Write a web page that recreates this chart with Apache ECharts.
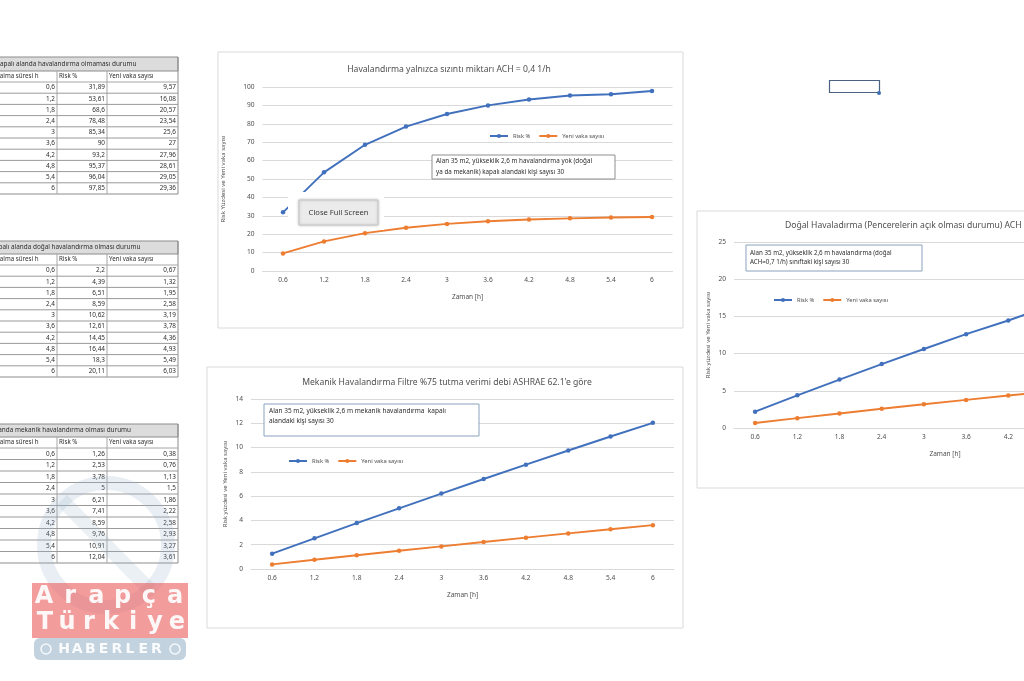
<!DOCTYPE html>
<html><head><meta charset="utf-8">
<script src="https://cdn.jsdelivr.net/npm/echarts@6/dist/echarts.min.js"></script>
<style>html,body{margin:0;padding:0;background:#fff;overflow:hidden;width:1024px;height:681px}#c{width:1180px;height:681px}</style>
</head><body><div id="c"></div>
<script>
// ---------- data ----------
const hours = [0.6, 1.2, 1.8, 2.4, 3, 3.6, 4.2, 4.8, 5.4, 6];
const timeLabels = ['0.6', '1.2', '1.8', '2.4', '3', '3.6', '4.2', '4.8', '5.4', '6'];
const riskNone = [31.89, 53.61, 68.6, 78.48, 85.34, 90, 93.2, 95.37, 96.04, 97.85];
const casesNone = [9.57, 16.08, 20.57, 23.54, 25.6, 27, 27.96, 28.61, 29.05, 29.36];
const riskNatural = [2.2, 4.39, 6.51, 8.59, 10.62, 12.61, 14.45, 16.44, 18.3, 20.11];
const casesNatural = [0.67, 1.32, 1.95, 2.58, 3.19, 3.78, 4.36, 4.93, 5.49, 6.03];
const riskMech = [1.26, 2.53, 3.78, 5, 6.21, 7.41, 8.59, 9.76, 10.91, 12.04];
const casesMech = [0.38, 0.76, 1.13, 1.5, 1.86, 2.22, 2.58, 2.93, 3.27, 3.61];
const seriesNames = ['Risk %', 'Yeni vaka sayısı'];
const tableTitles = ['Kapalı alanda havalandırma olmaması durumu', 'Kapalı alanda doğal havalandırma olması durumu', 'Kapalı alanda mekanik havalandırma olması durumu'];
const colHeaders = ['Kalma süresi h', 'Risk %', 'Yeni vaka sayısı'];
const chartTitles = ['Havalandırma yalnızca sızıntı miktarı ACH = 0,4 1/h', 'Mekanik Havalandırma Filtre %75 tutma verimi debi ASHRAE 62.1\'e göre', 'Doğal Havaladırma (Pencerelerin açık olması durumu) ACH = 0,7 1/h'];
const noteTexts = ['Alan 35 m2, yükseklik 2,6 m havalandırma yok (doğal\nya da mekanik) kapalı alandaki kişi sayısı 30', 'Alan 35 m2, yükseklik 2,6 m mekanik havalandırma  kapalı\nalandaki kişi sayısı 30', 'Alan 35 m2, yükseklik 2,6 m havalandırma (doğal\nACH=0,7 1/h) sınıftaki kişi sayısı 30'];
const xName = 'Zaman [h]';
const yNames = ['Risk Yüzdesi ve Yeni vaka sayısı', 'Risk yüzdesi ve Yeni vaka sayısı', 'Risk yüzdesi ve Yeni vaka sayısı'];
const yMax = [100, 14, 25];
const yInterval = [10, 2, 5];
const buttonText = 'Close Full Screen';
const wmLine1 = 'Arapça', wmLine2 = 'Türkiye', wmLine3 = 'HABERLER';

// ---------- style ----------
const FONT = '"Noto Sans", "Open Sans", sans-serif';
const BLUE = '#4170bd', ORANGE = '#ed7d31', GRAY = '#4f4f4f', GRID = '#d9d9d9';
const fmt = v => String(v).replace('.', ',');

const graphics = [];
function txt(x, y, text, size, opts) {
  opts = opts || {};
  graphics.push({
    type: 'text', x: x, y: y, z: opts.z || 50, silent: true,
    style: {
      text: text, font: (opts.weight || 'normal') + ' ' + size + 'px ' + (opts.family || FONT),
      fill: opts.fill || '#2e2e2e', opacity: opts.opacity == null ? 1 : opts.opacity,
      textAlign: opts.align || 'left', align: opts.align || 'left',
      textVerticalAlign: 'middle', verticalAlign: 'middle', lineHeight: opts.lh
    }
  });
}
function rect(x, y, w, h, style, z, r) {
  graphics.push({ type: 'rect', z: z || 10, silent: true, shape: { x: x, y: y, width: w, height: h, r: r || 0 }, style: style });
}
function line(x1, y1, x2, y2, color, w, z) {
  graphics.push({ type: 'line', z: z || 10, silent: true, shape: { x1: x1, y1: y1, x2: x2, y2: y2 }, style: { stroke: color, lineWidth: w || 1 } });
}

// ---------- tables ----------
const tableData = [
  { risk: riskNone, cases: casesNone, top: 57, titleH: 14, headH: 11, rowH: 11.2, titleX: -4 },
  { risk: riskNatural, cases: casesNatural, top: 241, titleH: 13, headH: 11, rowH: 11.2, titleX: -9 },
  { risk: riskMech, cases: casesMech, top: 424, titleH: 13, headH: 11, rowH: 11.5, titleX: -27 }
];
const colX = [0, 57, 107, 178];
tableData.forEach((t, ti) => {
  const hTop = t.top + t.titleH, dTop = hTop + t.headH, bottom = dTop + t.rowH * hours.length;
  rect(-1, t.top, colX[3] + 1, t.titleH, { fill: '#dcdcdc', stroke: '#8c8c8c', lineWidth: 1 });
  txt(t.titleX, t.top + t.titleH / 2, tableTitles[ti], 6.4, {});
  line(0, bottom, colX[3], bottom, '#8c8c8c', 1);
  line(colX[3], t.top, colX[3], bottom, '#8c8c8c', 1);
  line(colX[1], hTop, colX[1], bottom, '#a6a6a6', 1);
  line(colX[2], hTop, colX[2], bottom, '#a6a6a6', 1);
  line(0, dTop, colX[3], dTop, '#a6a6a6', 1);
  txt(-4, hTop + t.headH / 2, colHeaders[0], 6.2, {});
  txt(colX[1] + 2, hTop + t.headH / 2, colHeaders[1], 6.2, {});
  txt(colX[2] + 2, hTop + t.headH / 2, colHeaders[2], 6.2, {});
  hours.forEach((h, i) => {
    const cy = dTop + t.rowH * (i + 0.5);
    if (i > 0) line(0, dTop + t.rowH * i, colX[3], dTop + t.rowH * i, '#9a9a9a', 1);
    txt(colX[1] - 2, cy, fmt(h), 6.4, { align: 'right' });
    txt(colX[2] - 2, cy, fmt(t.risk[i]), 6.4, { align: 'right' });
    txt(colX[3] - 2, cy, fmt(t.cases[i]), 6.4, { align: 'right' });
  });
});

// ---------- chart frames, titles, notes ----------
rect(218, 52, 465, 276, { fill: 'none', stroke: '#d9d9d9', lineWidth: 1 }, 1);
rect(207, 367, 476, 261, { fill: 'none', stroke: '#d9d9d9', lineWidth: 1 }, 1);
rect(697, 211, 420, 277, { fill: 'none', stroke: '#d9d9d9', lineWidth: 1 }, 1);
txt(449, 70, chartTitles[0], 8.6, { align: 'center', fill: GRAY });
txt(447, 383, chartTitles[1], 8.6, { align: 'center', fill: GRAY });
txt(785, 226, chartTitles[2], 8.6, { fill: GRAY });

rect(432, 155, 183, 24, { fill: '#fff', stroke: '#8f8f8f', lineWidth: 1 }, 60);
txt(436, 167, noteTexts[0], 6.3, { z: 61, lh: 11 });
rect(264, 404, 215, 32, { fill: '#fff', stroke: '#8aa2bd', lineWidth: 1 }, 60);
txt(269, 416.5, noteTexts[1], 6.5, { z: 61, lh: 10 });
rect(746, 245, 176, 26, { fill: '#fff', stroke: '#8aa2bd', lineWidth: 1 }, 60);
txt(750, 257.5, noteTexts[2], 6.2, { z: 61, lh: 9 });

// Close Full Screen overlay
rect(288, 192, 96, 38, { fill: '#fff' }, 70);
rect(299, 200, 79, 25, { fill: '#ebebeb', stroke: '#c4c4c4', lineWidth: 1, shadowBlur: 3, shadowColor: 'rgba(0,0,0,0.2)' }, 71);
txt(338.5, 212.5, buttonText, 7.6, { align: 'center', fill: '#3a3a3a', z: 72 });

// Selected shape top right
rect(829.5, 80.5, 50, 12, { fill: 'none', stroke: '#4b6283', lineWidth: 1.2 }, 20);
graphics.push({ type: 'circle', z: 21, silent: true, shape: { cx: 879, cy: 93, r: 2 }, style: { fill: '#3f6fb5' } });

// Watermark
graphics.push({ type: 'circle', z: 80, silent: true, shape: { cx: 106, cy: 545, r: 62 }, style: { fill: 'none', stroke: 'rgba(150,178,200,0.22)', lineWidth: 14 } });
graphics.push({ type: 'line', z: 80, silent: true, shape: { x1: 62, y1: 500, x2: 150, y2: 590 }, style: { stroke: 'rgba(150,178,200,0.2)', lineWidth: 14 } });
rect(32, 583, 156, 55, { fill: 'rgba(236,96,96,0.62)' }, 81);
rect(34, 638, 152, 22, { fill: 'rgba(120,155,185,0.45)' }, 81, 6);
const wmFont = '"DejaVu Sans", sans-serif';
Array.from(wmLine1).forEach((ch, i) => txt(44 + i * 26.2, 597, ch, 24, { align: 'center', weight: 'bold', fill: 'rgba(255,255,255,0.92)', z: 82, family: wmFont }));
Array.from(wmLine2).forEach((ch, i) => txt(45 + i * 22, 623, ch, 24, { align: 'center', weight: 'bold', fill: 'rgba(255,255,255,0.92)', z: 82, family: wmFont }));
Array.from(wmLine3).forEach((ch, i) => txt(64 + i * 13.2, 649, ch, 14, { align: 'center', weight: 'bold', fill: 'rgba(255,255,255,0.9)', z: 82, family: wmFont }));
graphics.push({ type: 'circle', z: 82, silent: true, shape: { cx: 46, cy: 649, r: 5 }, style: { fill: 'none', stroke: 'rgba(255,255,255,0.85)', lineWidth: 1.5 } });
graphics.push({ type: 'circle', z: 82, silent: true, shape: { cx: 175, cy: 649, r: 5 }, style: { fill: 'none', stroke: 'rgba(255,255,255,0.85)', lineWidth: 1.5 } });

// ---------- charts ----------
const grids = [
  { left: 262.5, top: 87, width: 410, height: 184 },
  { left: 251, top: 399, width: 423, height: 170 },
  { left: 734, top: 242, width: 422, height: 186 }
];
const yNameGaps = [36, 23, 23];
const chartData = [[riskNone, casesNone], [riskMech, casesMech], [riskNatural, casesNatural]];
const legendPos = [{ left: 484, top: 128 }, { left: 283, top: 453 }, { left: 768, top: 292 }];

const xAxes = [], yAxes = [], series = [], legends = [];
grids.forEach((g, gi) => {
  xAxes.push({
    gridIndex: gi, type: 'category', data: timeLabels, boundaryGap: true,
    axisLine: { lineStyle: { color: GRID } }, axisTick: { show: false },
    axisLabel: { color: GRAY, fontSize: 6.6, margin: 6, interval: 0, fontFamily: FONT },
    name: xName, nameLocation: 'middle', nameGap: 23,
    nameTextStyle: { color: GRAY, fontSize: 6.5, fontFamily: FONT }
  });
  yAxes.push({
    gridIndex: gi, type: 'value', min: 0, max: yMax[gi], interval: yInterval[gi],
    axisLine: { show: false }, axisTick: { show: false },
    splitLine: { lineStyle: { color: GRID } },
    axisLabel: { color: GRAY, fontSize: 6.6, margin: 8, fontFamily: FONT },
    name: yNames[gi], nameLocation: 'middle', nameRotate: 90, nameGap: yNameGaps[gi],
    nameTextStyle: { color: GRAY, fontSize: 6, fontFamily: FONT }
  });
  [BLUE, ORANGE].forEach((col, si) => {
    series.push({
      type: 'line', name: seriesNames[si], xAxisIndex: gi, yAxisIndex: gi,
      data: chartData[gi][si], symbol: 'circle', symbolSize: 4.5, showSymbol: true,
      itemStyle: { color: col }, lineStyle: { color: col, width: 1.9 }, animation: false, z: 3
    });
  });
  legends.push({
    left: legendPos[gi].left, top: legendPos[gi].top, data: seriesNames, orient: 'horizontal',
    itemWidth: 18, itemHeight: 5, itemGap: 8, selectedMode: false,
    textStyle: { color: GRAY, fontSize: 5.8, fontFamily: FONT }
  });
});

const chart = echarts.init(document.getElementById('c'), null, { renderer: 'canvas' });
chart.setOption({
  backgroundColor: '#fff', animation: false,
  grid: grids, xAxis: xAxes, yAxis: yAxes, series: series, legend: legends,
  graphic: { elements: graphics }
});
</script>
</body></html>
